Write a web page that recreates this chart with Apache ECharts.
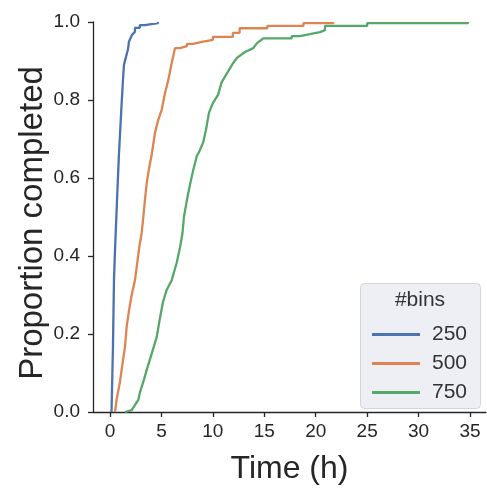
<!DOCTYPE html>
<html>
<head>
<meta charset="utf-8">
<script src="https://cdn.jsdelivr.net/npm/echarts@6/dist/echarts.min.js"></script>
<style>
html,body{margin:0;padding:0;background:#fff;}
#c{width:487px;height:491px;}
</style>
</head>
<body>
<div id="c"></div>
<script>
// ECDF curves (time in hours, proportion completed)
const seriesNames = ['250', '500', '750'];
const blueT = [0.15,0.19,0.29,0.39,0.49,0.68,0.87,1.07,1.26,1.36,1.55,1.75,1.85,2.14,2.43,2.43,2.9,2.9,3.4,3.4,4.66,4.66];
const blueP = [0,0.005,0.167,0.34,0.415,0.54,0.66,0.76,0.85,0.89,0.91,0.93,0.95,0.967,0.975,0.985,0.985,0.992,0.992,0.997,0.997,1.0];
const orangeT = [0.49,0.65,0.97,1.23,1.46,1.62,1.85,2.11,2.43,2.6,2.85,3.08,3.24,3.4,3.57,3.82,4.05,4.37,4.69,5.02,5.35,5.67,6.0,6.32,6.8,6.8,7.48,7.48,8.07,8.07,8.94,8.94,10.0,10.0,11.95,11.95,12.6,12.6,15.3,15.3,18.8,18.8,21.7,21.7];
const orangeP = [0,0.033,0.077,0.126,0.167,0.218,0.26,0.30,0.338,0.372,0.423,0.459,0.5,0.544,0.587,0.628,0.659,0.715,0.749,0.774,0.818,0.851,0.895,0.933,0.933,0.938,0.938,0.944,0.944,0.949,0.949,0.954,0.954,0.962,0.962,0.972,0.972,0.984,0.984,0.99,0.99,0.997,0.997,1.0];
const greenT = [1.46,2.11,2.26,2.75,2.92,3.24,3.57,4.05,4.54,4.86,5.15,5.51,6.0,6.48,6.8,7.05,7.19,7.48,7.77,8.1,8.43,8.75,9.04,9.33,9.62,10.0,10.5,10.86,11.34,11.98,12.34,13.12,13.93,14.29,14.9,17.66,17.66,18.46,18.46,19.44,19.44,20.41,20.41,20.9,20.9,25.0,25.0,34.8,34.8];
const greenP = [0,0.005,0.01,0.031,0.051,0.077,0.108,0.149,0.192,0.241,0.282,0.313,0.338,0.382,0.421,0.459,0.5,0.544,0.582,0.621,0.655,0.672,0.69,0.723,0.767,0.792,0.813,0.846,0.867,0.895,0.908,0.923,0.933,0.946,0.958,0.958,0.964,0.964,0.969,0.969,0.974,0.974,0.979,0.979,0.99,0.99,0.997,0.997,1.0];
const xTicks = [0,5,10,15,20,25,30,35];
const yTicks = [0,0.2,0.4,0.6,0.8,1.0];

const colors = ['#4c72b0', '#dd8452', '#55a868'];
const FONT = '"Liberation Sans", Arial, sans-serif';
const TXT = '#262626';

function pairs(t, p) { return t.map((v, i) => [v, p[i]]); }
const curves = [pairs(blueT, blueP), pairs(orangeT, orangeP), pairs(greenT, greenP)];

const chart = echarts.init(document.getElementById('c'), null, {renderer: 'canvas'});
chart.setOption({
  animation: false,
  backgroundColor: '#ffffff',
  grid: {left: 93, right: 1, top: 22, bottom: 79, containLabel: false},
  xAxis: {
    type: 'value', min: -1.65, max: 36.55,
    name: 'Time (h)', nameLocation: 'middle', nameGap: 41,
    nameTextStyle: {fontFamily: FONT, fontSize: 32, color: TXT},
    axisLine: {show: true, lineStyle: {color: TXT, width: 1.3}},
    axisTick: {show: true, length: 5, customValues: xTicks, lineStyle: {color: TXT, width: 1.3}},
    axisLabel: {customValues: xTicks, margin: 10, fontFamily: FONT, fontSize: 19, color: TXT},
    splitLine: {show: false}
  },
  yAxis: {
    type: 'value', min: 0, max: 1,
    name: 'Proportion completed', nameLocation: 'middle', nameGap: 44, nameMoveOverlap: false,
    nameTextStyle: {fontFamily: FONT, fontSize: 33, color: TXT, padding: [0, 12, 0, 0]},
    axisLine: {show: true, onZero: false, lineStyle: {color: TXT, width: 1.3}},
    axisTick: {show: true, length: 5, customValues: yTicks, lineStyle: {color: TXT, width: 1.3}},
    axisLabel: {customValues: yTicks, margin: 13, fontFamily: FONT, fontSize: 19, color: TXT,
      formatter: v => v.toFixed(1)},
    splitLine: {show: false}
  },
  legend: {
    orient: 'vertical', left: 367, top: 319,
    icon: 'rect', itemWidth: 48, itemHeight: 3, itemGap: 8,
    data: seriesNames,
    textStyle: {fontFamily: FONT, fontSize: 21, color: '#333333', lineHeight: 21, padding: [0, 0, 0, 7]},
    z: 10
  },
  graphic: [
    {type: 'rect', left: 360, top: 283, z: 5,
      shape: {width: 120, height: 125, r: 4},
      style: {fill: '#eeeff4', stroke: '#d4d4da', lineWidth: 1}},
    {type: 'text', x: 420, y: 290, z: 6,
      style: {text: '#bins', fontFamily: FONT, fontSize: 21, fill: '#333333', align: 'center', verticalAlign: 'top'}}
  ],
  series: curves.map((d, i) => ({
    name: seriesNames[i], type: 'line', data: d, showSymbol: false,
    lineStyle: {color: colors[i], width: 2.3}, itemStyle: {color: colors[i]},
    z: 3
  }))
});
</script>
</body>
</html>
